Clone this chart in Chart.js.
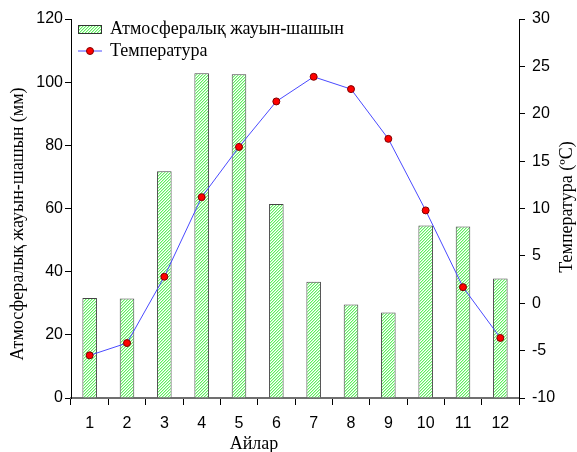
<!DOCTYPE html>
<html>
<head>
<meta charset="utf-8">
<script src="https://cdn.jsdelivr.net/npm/chart.js@4/dist/chart.umd.min.js"></script>
<style>
  html, body { margin: 0; padding: 0; background: #ffffff; }
  #wrap { width: 577px; height: 452px; }
</style>
</head>
<body>
<div id="wrap"><canvas id="c" width="577" height="452"></canvas></div>
<script>
// Monthly climate data
const months = ['1', '2', '3', '4', '5', '6', '7', '8', '9', '10', '11', '12'];
const precipitation = [31.7, 31.5, 71.8, 102.8, 102.5, 61.4, 36.8, 29.6, 27.1, 54.6, 54.3, 37.8];
const temperature = [-5.5, -4.2, 2.8, 11.2, 16.5, 21.3, 23.9, 22.6, 17.35, 9.8, 1.7, -3.66];
const precipTicks = [0, 20, 40, 60, 80, 100, 120];
const tempTicks = [-10, -5, 0, 5, 10, 15, 20, 25, 30];

const precipLabel = 'Атмосфералық жауын-шашын';
const tempLabel = 'Температура';
const precipTitle = 'Атмосфералық жауын-шашын (мм)';
const tempTitle = 'Температура (ºC)';
const monthTitle = 'Айлар';

const serif = '"Liberation Serif", "DejaVu Serif", serif';
const sans = '"Liberation Sans", Arial, sans-serif';

// Fine diagonal green hatch for the precipitation bars
function makeHatch() {
  const t = document.createElement('canvas');
  t.width = 3; t.height = 3;
  const g = t.getContext('2d');
  const img = g.createImageData(3, 3);
  for (let y = 0; y < 3; y++) {
    for (let x = 0; x < 3; x++) {
      const k = (x + y) % 3;
      const col = k === 0 ? [95, 238, 95] : (k === 1 ? [190, 250, 190] : [255, 255, 255]);
      const i = (y * 3 + x) * 4;
      img.data[i] = col[0]; img.data[i + 1] = col[1]; img.data[i + 2] = col[2]; img.data[i + 3] = 255;
    }
  }
  g.putImageData(img, 0, 0);
  return g.createPattern(t, 'repeat');
}
const hatch = makeHatch();

// Axis titles and in-plot legend
const decorations = {
  id: 'decorations',
  afterDraw(chart) {
    const ctx = chart.ctx;
    const area = chart.chartArea;
    ctx.save();
    ctx.fillStyle = '#000';
    ctx.font = '18px ' + serif;
    ctx.textAlign = 'center';
    ctx.textBaseline = 'middle';

    // left title
    ctx.save();
    ctx.translate(18, 224);
    ctx.rotate(-Math.PI / 2);
    ctx.fillText(precipTitle, 0, 0);
    ctx.restore();

    // right title (reads bottom to top)
    ctx.save();
    ctx.translate(567, 207);
    ctx.rotate(-Math.PI / 2);
    ctx.fillText(tempTitle, 0, 0);
    ctx.restore();

    // bottom title
    ctx.fillText(monthTitle, 254, 444);

    // legend
    ctx.textAlign = 'left';
    const lx = area.left + 7;
    ctx.fillStyle = hatch;
    ctx.fillRect(lx, 25, 24, 9);
    ctx.strokeStyle = '#333';
    ctx.lineWidth = 1;
    ctx.strokeRect(lx + 0.5, 25.5, 23, 8);
    ctx.fillStyle = '#000';
    ctx.fillText(precipLabel, lx + 32, 29);

    ctx.strokeStyle = '#4a4aff';
    ctx.beginPath();
    ctx.moveTo(lx, 51);
    ctx.lineTo(lx + 24, 51);
    ctx.stroke();
    ctx.beginPath();
    ctx.arc(lx + 12, 51, 3.5, 0, Math.PI * 2);
    ctx.fillStyle = '#ff0000';
    ctx.fill();
    ctx.strokeStyle = '#800000';
    ctx.stroke();
    ctx.fillStyle = '#000';
    ctx.fillText(tempLabel, lx + 32, 51);
    ctx.restore();
  }
};

new Chart(document.getElementById('c'), {
  data: {
    labels: months,
    datasets: [
      {
        type: 'line',
        label: tempLabel,
        data: temperature,
        yAxisID: 'yT',
        borderColor: '#4a4aff',
        borderWidth: 1,
        pointRadius: 3.5,
        pointBackgroundColor: '#ff0000',
        pointBorderColor: '#800000',
        pointBorderWidth: 1,
        tension: 0,
        order: 0
      },
      {
        type: 'bar',
        label: precipLabel,
        data: precipitation,
        yAxisID: 'yP',
        backgroundColor: hatch,
        borderColor: '#444444',
        borderWidth: 1,
        categoryPercentage: 1,
        barPercentage: 0.39,
        order: 1
      }
    ]
  },
  options: {
    responsive: false,
    animation: false,
    devicePixelRatio: 1,
    layout: { padding: { top: 19, left: 0, right: 0, bottom: 0 } },
    plugins: { legend: { display: false }, tooltip: { enabled: false } },
    scales: {
      x: {
        type: 'category',
        offset: true,
        afterFit(s) { s.height = 54; },
        grid: { offset: true, drawOnChartArea: false, drawTicks: true, tickLength: 7, color: '#000', lineWidth: 1 },
        border: { display: true, color: '#707070', width: 2 },
        ticks: { color: '#000', font: { family: sans, size: 16 }, padding: 9 }
      },
      yP: {
        position: 'left',
        min: 0, max: 120,
        afterFit(s) { s.width = 71; },
        afterBuildTicks(s) { s.ticks = precipTicks.map(v => ({ value: v })); },
        grid: { drawOnChartArea: false, drawTicks: true, tickLength: 6, color: '#000' },
        border: { display: true, color: '#000', width: 1 },
        ticks: { color: '#000', font: { family: sans, size: 16 }, padding: 2 }
      },
      yT: {
        position: 'right',
        min: -10, max: 30,
        afterFit(s) { s.width = 58; },
        afterBuildTicks(s) { s.ticks = tempTicks.map(v => ({ value: v })); },
        grid: { drawOnChartArea: false, drawTicks: true, tickLength: 6, color: '#000' },
        border: { display: true, color: '#000', width: 1 },
        ticks: { color: '#000', font: { family: sans, size: 16 }, padding: 7 }
      }
    }
  },
  plugins: [decorations]
});
</script>
</body>
</html>
